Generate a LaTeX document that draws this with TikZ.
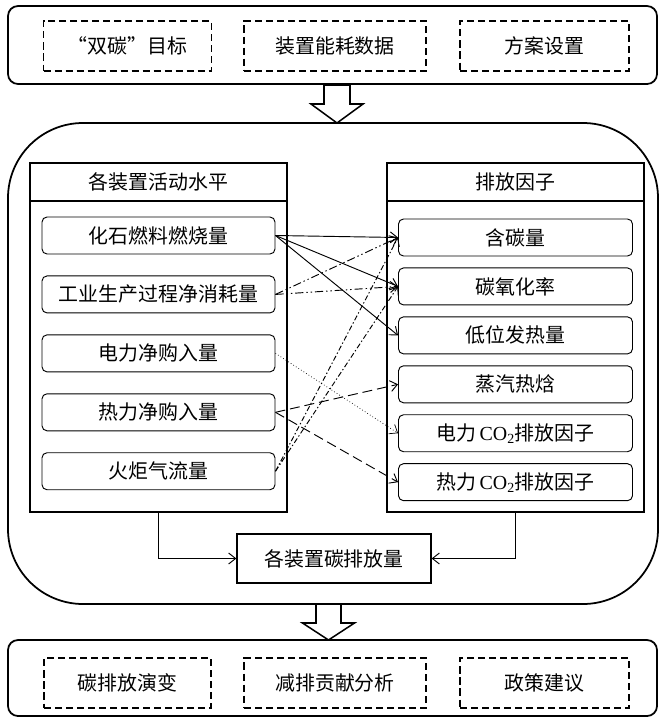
\documentclass[tikz,border=0pt]{standalone}
\usepackage{fontspec}
\setmainfont{Liberation Serif}
\newfontfamily\cjk{Noto Sans CJK SC}
\usetikzlibrary{positioning, calc, arrows.meta}
\newlength{\pxu}
\setlength{\pxu}{0.03cm}
\tikzstyle{roundframe} = [draw, line width=1.5pt, rounded corners=10\pxu, minimum width=649\pxu, minimum height=78\pxu]
\tikzstyle{dashbox} = [draw, line width=1.1pt, dash pattern=on 6pt off 3.4pt, minimum height=50\pxu]
\tikzstyle{panel} = [draw, line width=1.3pt, minimum width=257\pxu, minimum height=349\pxu]
\tikzstyle{headbox} = [draw, line width=1.1pt, minimum width=257\pxu, minimum height=38\pxu]
\tikzstyle{itembox} = [draw, line width=0.8pt, rounded corners=5\pxu, minimum height=37\pxu, inner sep=0]
\tikzstyle{arrow} = [line width=0.8pt, ->]
\tikzstyle{ddlink} = [arrow, dash pattern=on 7pt off 2.5pt on 1.2pt off 2.5pt on 1.2pt off 2.5pt]
\tikzstyle{flarelink} = [arrow, dash pattern=on 4.5pt off 2pt on 1.2pt off 2pt]
\tikzstyle{dotlink} = [arrow, line width=0.6pt, dotted]
\tikzstyle{dashlink} = [arrow, dash pattern=on 8.5pt off 4.2pt]
\tikzstyle{hollow} = [line width=1.3pt, fill=white]

\begin{document}
\begin{tikzpicture}[x=0.03cm, y=-0.03cm, >={Straight Barb[length=2.1mm, width=3.3mm]}, font=\cjk\fontsize{17}{20}\selectfont]
    \useasboundingbox (0,0) rectangle (663,720);

    % inputs
    \node[roundframe] (inputs) at (332.5,45) {};
    \node[dashbox, minimum width=168\pxu] (goal) at (127.5,46) {“双碳”目标};
    \node[dashbox, minimum width=182\pxu] (energydata) at (335,46) {装置能耗数据};
    \node[dashbox, minimum width=169\pxu] (scheme) at (544.5,46) {方案设置};

    % accounting frame
    \node[draw, line width=1.5pt, rounded corners=75\pxu, minimum width=650\pxu, minimum height=481\pxu] (core) at (333,363.5) {};
    \coordinate (upperarrow) at (337,85);
    \draw[hollow] (upperarrow) ++(-13,0) -- ++(0,19) -- ++(-13,0) -- ++(26,19) -- ++(26,-19) -- ++(-13,0) -- ++(0,-19) -- cycle;

    % activity levels
    \node[panel] (actpanel) at (158.5,337.5) {};
    \node[headbox, anchor=north] (acthead) at (actpanel.north) {各装置活动水平};
    \node[itembox, minimum width=233\pxu, below=15\pxu of acthead] (fossil) {化石燃料燃烧量};
    \node[itembox, minimum width=233\pxu, below=21\pxu of fossil] (process) {工业生产过程净消耗量};
    \node[itembox, minimum width=233\pxu, below=21\pxu of process] (power) {电力净购入量};
    \node[itembox, minimum width=233\pxu, below=21\pxu of power] (heat) {热力净购入量};
    \node[itembox, minimum width=233\pxu, below=21\pxu of heat] (flare) {火炬气流量};

    % emission factors
    \node[panel] (facpanel) at (515.5,337.5) {};
    \node[headbox, anchor=north] (fachead) at (facpanel.north) {排放因子};
    \node[itembox, minimum width=234\pxu, below=17\pxu of fachead] (carbon) {含碳量};
    \node[itembox, minimum width=234\pxu, below=11\pxu of carbon] (oxid) {碳氧化率};
    \node[itembox, minimum width=234\pxu, below=11\pxu of oxid] (ncv) {低位发热量};
    \node[itembox, minimum width=234\pxu, below=11\pxu of ncv] (steam) {蒸汽热焓};
    \node[itembox, minimum width=234\pxu, below=11\pxu of steam] (powerEF) {电力\,{\rmfamily CO\textsubscript{2}}排放因子};
    \node[itembox, minimum width=234\pxu, below=11\pxu of powerEF] (heatEF) {热力\,{\rmfamily CO\textsubscript{2}}排放因子};

    \draw[arrow] (fossil.east) -- (carbon.west);
    \draw[arrow] (fossil.east) -- (oxid.west);
    \draw[arrow] (fossil.east) -- (ncv.west);
    \draw[ddlink] (process.east) -- (carbon.west);
    \draw[ddlink] (process.east) -- (oxid.west);
    \draw[dotlink] (power.east) -- (powerEF.west);
    \draw[dashlink] (heat.east) -- (steam.west);
    \draw[dashlink] (heat.east) -- (heatEF.west);
    \draw[flarelink] (flare.east) -- (carbon.west);
    \draw[flarelink] (flare.east) -- (oxid.west);

    % result
    \node[draw, line width=1.1pt, minimum width=194\pxu, minimum height=49\pxu] (total) at (334,558.5) {各装置碳排放量};
    \draw[arrow] (actpanel.south) |- (total.west);
    \draw[arrow] (facpanel.south) |- (total.east);

    % outputs
    \node[roundframe, minimum height=76\pxu] (outputs) at (332.5,678) {};
    \coordinate (lowerarrow) at (328.5,604);
    \draw[hollow] (lowerarrow) ++(-12.5,0) -- ++(0,19) -- ++(-13.5,0) -- ++(26,17) -- ++(26,-17) -- ++(-13.5,0) -- ++(0,-19) -- cycle;
    \node[dashbox, minimum width=167\pxu] (evolution) at (127.5,683) {碳排放演变};
    \node[dashbox, minimum width=182\pxu] (contribution) at (335,683) {减排贡献分析};
    \node[dashbox, minimum width=169\pxu] (policy) at (544.5,683) {政策建议};
\end{tikzpicture}
\end{document}
